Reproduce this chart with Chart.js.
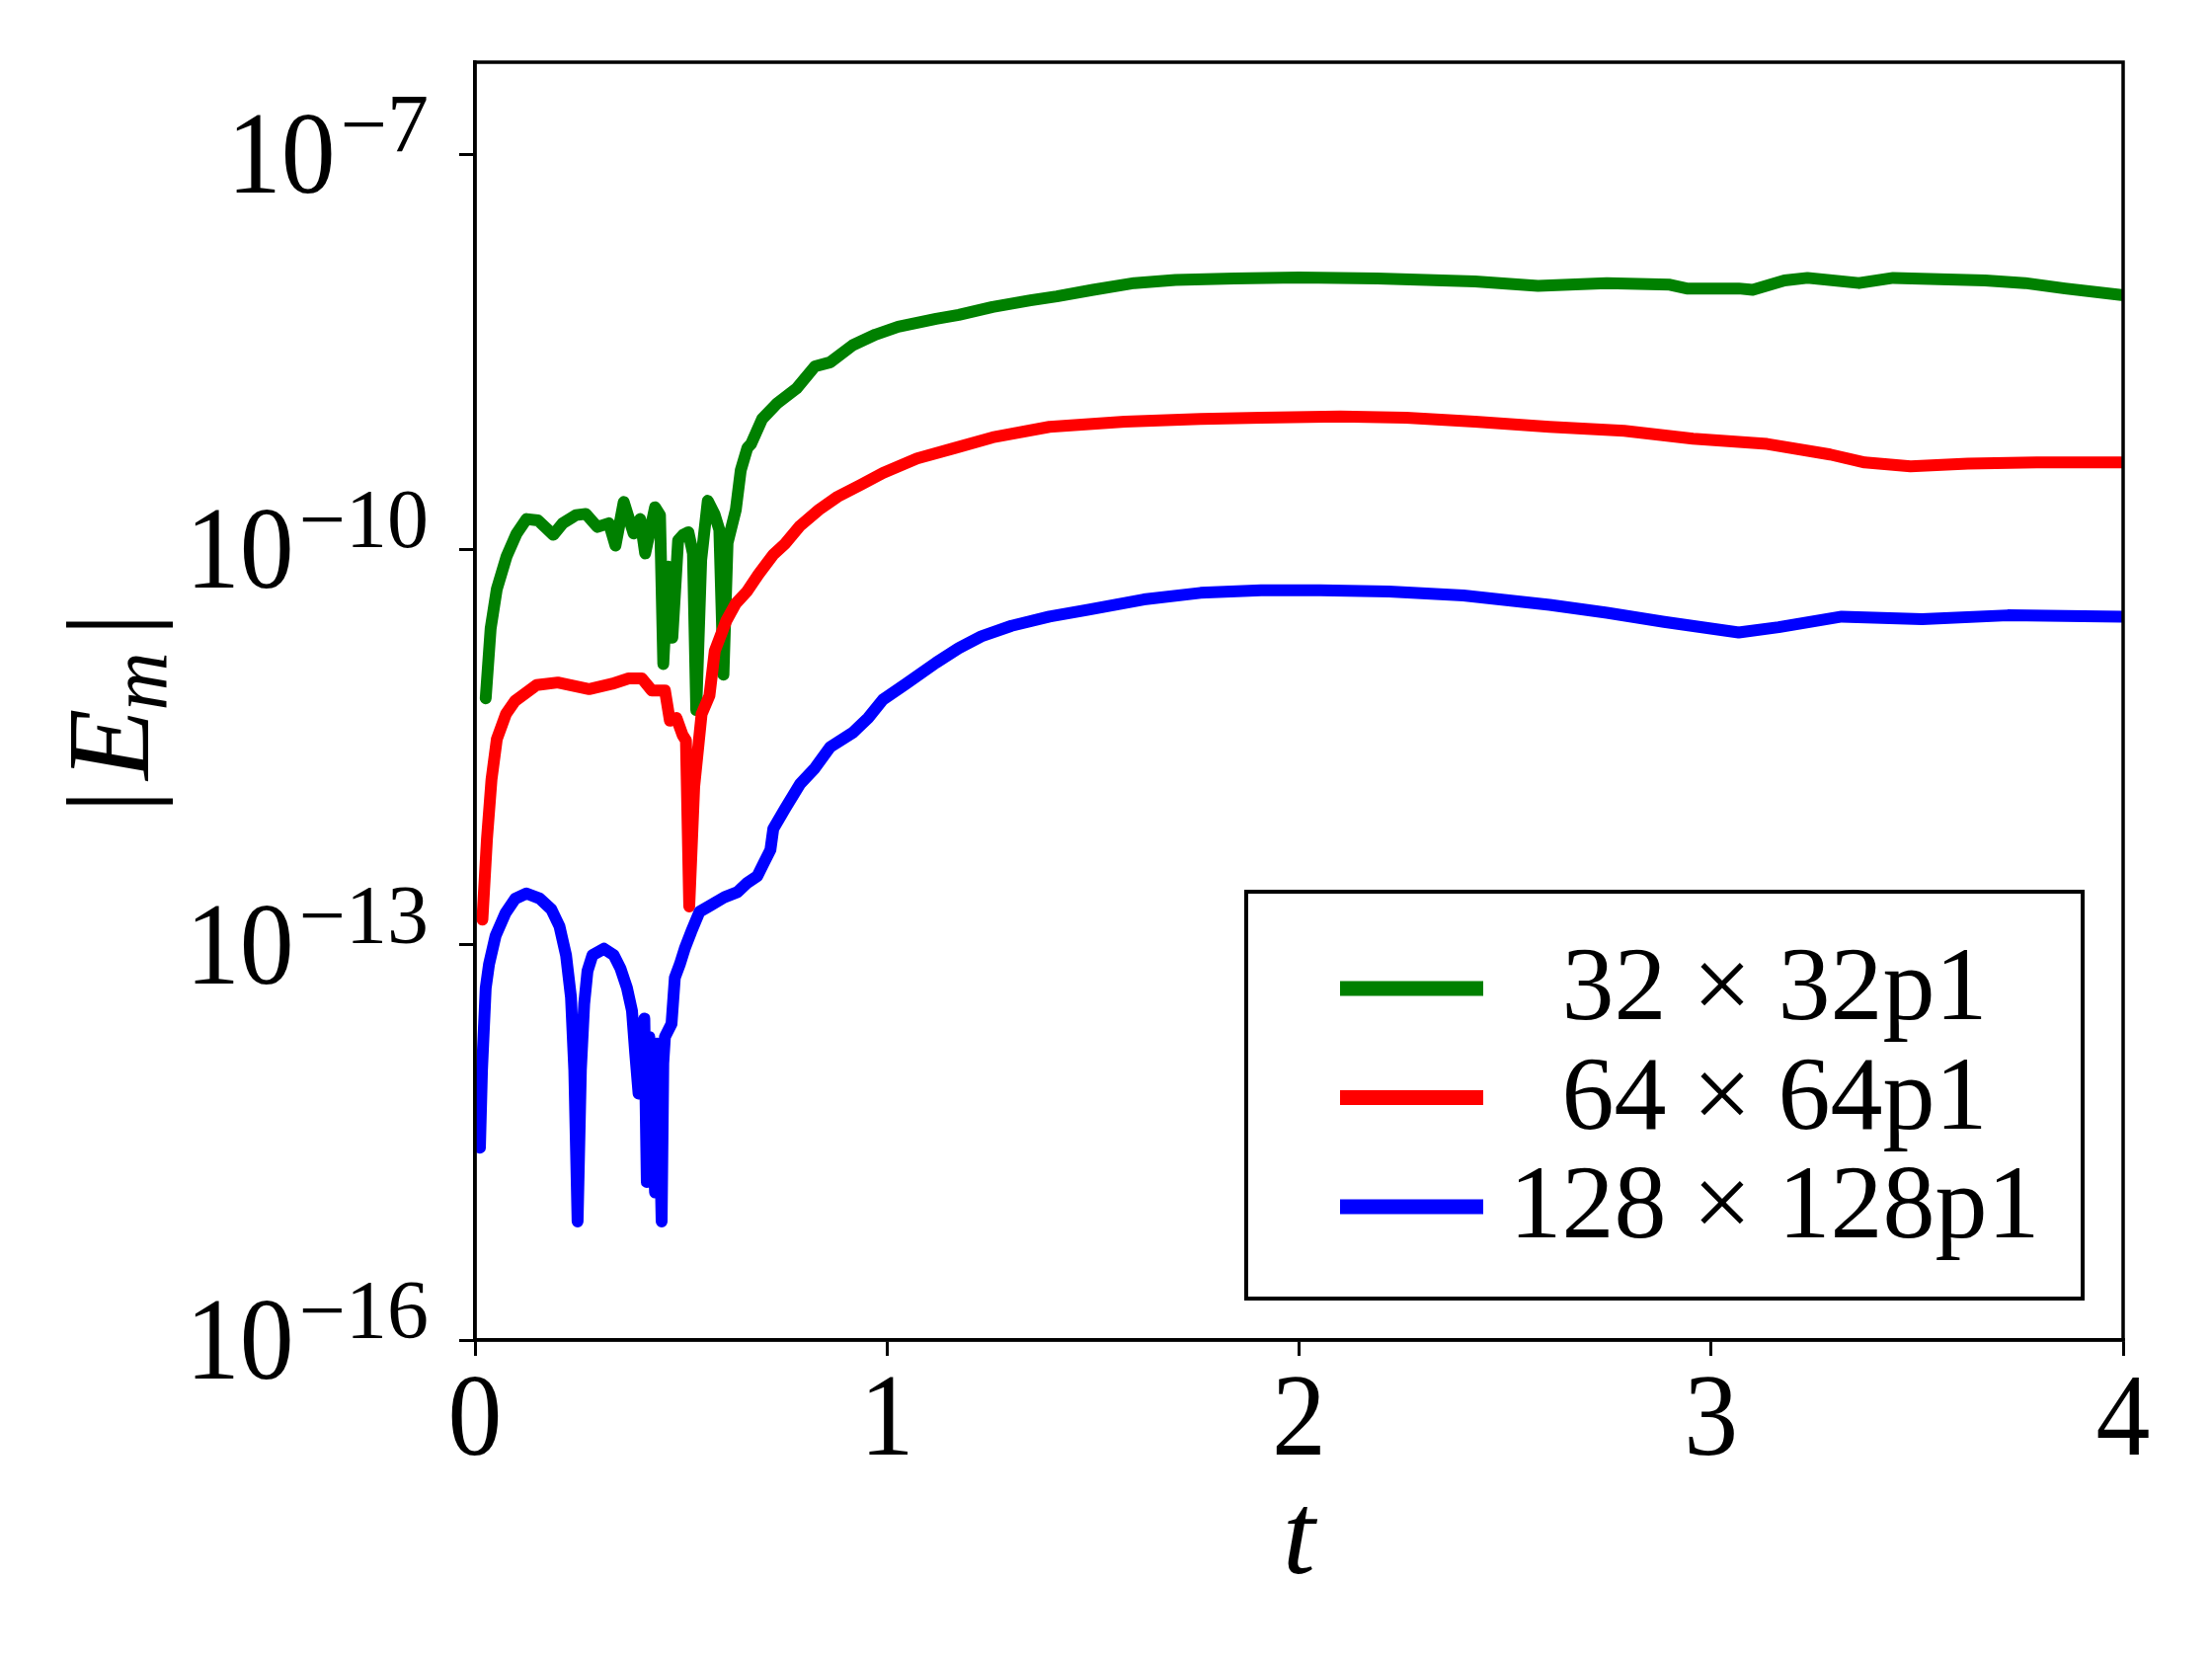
<!DOCTYPE html>
<html><head><meta charset="utf-8">
<style>html,body{margin:0;padding:0;background:#fff;} #c{display:block;}</style>
<script src="https://cdn.jsdelivr.net/npm/chart.js@4.4.1/dist/chart.umd.min.js"></script>
</head><body>
<canvas id="c" width="2240" height="1680" style="width:2240px;height:1680px"></canvas>
<script>
// ---------------- DATA ----------------
const seriesLabels = ['32 × 32p1', '64 × 64p1', '128 × 128p1'];
const seriesColors = ['#008000', '#ff0000', '#0000ff'];

const tGreen = [0.026,0.038,0.053,0.077,0.101,0.125,0.153,0.190,0.213,0.245,0.269,0.297,0.325,0.341,0.361,0.385,0.401,0.413,0.437,0.449,0.457,0.469,0.479,0.493,0.505,0.518,0.529,0.537,0.549,0.565,0.581,0.593,0.603,0.613,0.633,0.645,0.661,0.670,0.697,0.734,0.780,0.825,0.862,0.917,0.972,1.027,1.119,1.174,1.256,1.348,1.412,1.50,1.60,1.70,1.843,2.000,2.190,2.427,2.580,2.747,2.900,2.941,3.067,3.101,3.178,3.234,3.359,3.442,3.665,3.762,3.859,3.996];
const eGreen = [7.41e-12,2.51e-11,5.01e-11,8.91e-11,1.32e-10,1.70e-10,1.66e-10,1.29e-10,1.58e-10,1.82e-10,1.86e-10,1.48e-10,1.58e-10,1.07e-10,2.29e-10,1.32e-10,1.70e-10,9.33e-11,2.09e-10,1.82e-10,1.35e-11,7.41e-11,2.14e-11,1.17e-10,1.29e-10,1.35e-10,9.33e-11,6.03e-12,8.32e-11,2.34e-10,1.86e-10,1.41e-10,1.12e-11,1.12e-10,2.00e-10,3.98e-10,5.89e-10,6.31e-10,9.77e-10,1.29e-9,1.66e-9,2.45e-9,2.63e-9,3.55e-9,4.27e-9,4.90e-9,5.62e-9,6.03e-9,6.92e-9,7.76e-9,8.32e-9,9.33e-9,1.05e-8,1.11e-8,1.14e-8,1.16e-8,1.14e-8,1.08e-8,1.00e-8,1.05e-8,1.02e-8,9.55e-9,9.55e-9,9.33e-9,1.10e-8,1.15e-8,1.05e-8,1.15e-8,1.10e-8,1.05e-8,9.55e-9,8.51e-9];

const tRed = [0.018,0.029,0.040,0.053,0.075,0.097,0.149,0.201,0.277,0.333,0.373,0.405,0.429,0.461,0.473,0.489,0.504,0.512,0.520,0.532,0.550,0.569,0.582,0.610,0.633,0.660,0.688,0.724,0.752,0.789,0.835,0.880,0.936,0.990,1.073,1.165,1.256,1.394,1.577,1.761,1.908,2.100,2.260,2.427,2.608,2.789,2.956,3.136,3.289,3.373,3.484,3.623,3.790,3.996];
const eRed = [1.55e-13,6.31e-13,1.78e-12,3.63e-12,5.62e-12,7.08e-12,9.33e-12,9.77e-12,8.71e-12,9.55e-12,1.05e-11,1.05e-11,8.51e-12,8.51e-12,5.01e-12,5.25e-12,3.89e-12,3.55e-12,1.95e-13,1.58e-12,5.62e-12,7.76e-12,1.70e-11,2.88e-11,3.89e-11,4.79e-11,6.46e-11,9.12e-11,1.10e-10,1.51e-10,2.00e-10,2.51e-10,3.09e-10,3.80e-10,4.90e-10,5.89e-10,7.08e-10,8.51e-10,9.33e-10,9.77e-10,1.00e-9,1.02e-9,1.00e-9,9.33e-10,8.51e-10,7.94e-10,6.92e-10,6.31e-10,5.25e-10,4.57e-10,4.27e-10,4.47e-10,4.57e-10,4.57e-10];

const tBlue = [0.012,0.017,0.026,0.034,0.050,0.074,0.098,0.125,0.157,0.185,0.205,0.221,0.233,0.241,0.249,0.257,0.265,0.273,0.285,0.313,0.337,0.353,0.369,0.381,0.389,0.397,0.405,0.411,0.417,0.423,0.429,0.433,0.437,0.441,0.445,0.449,0.453,0.457,0.461,0.477,0.485,0.497,0.509,0.525,0.545,0.573,0.605,0.637,0.661,0.685,0.701,0.717,0.724,0.752,0.789,0.825,0.862,0.917,0.954,0.990,1.046,1.119,1.174,1.229,1.302,1.394,1.486,1.623,1.761,1.908,2.051,2.218,2.399,2.608,2.747,2.886,3.067,3.164,3.317,3.512,3.720,3.996];
const eBlue = [2.88e-15,1.12e-14,4.68e-14,7.08e-14,1.17e-13,1.74e-13,2.24e-13,2.45e-13,2.24e-13,1.86e-13,1.38e-13,8.32e-14,3.98e-14,1.12e-14,7.94e-16,1.12e-14,3.55e-14,6.31e-14,8.32e-14,9.33e-14,8.32e-14,6.61e-14,4.68e-14,3.16e-14,1.48e-14,7.41e-15,2.00e-14,2.75e-14,1.58e-15,2.00e-14,1.12e-14,2.51e-15,1.32e-15,1.78e-14,1.48e-14,3.16e-15,7.94e-16,1.26e-14,2.00e-14,2.51e-14,5.62e-14,7.08e-14,9.33e-14,1.26e-13,1.78e-13,2.00e-13,2.29e-13,2.51e-13,2.95e-13,3.31e-13,4.17e-13,5.25e-13,7.59e-13,1.07e-12,1.66e-12,2.19e-12,3.16e-12,4.07e-12,5.25e-12,7.24e-12,9.55e-12,1.38e-11,1.78e-11,2.19e-11,2.63e-11,3.09e-11,3.47e-11,4.17e-11,4.68e-11,4.90e-11,4.90e-11,4.79e-11,4.47e-11,3.80e-11,3.31e-11,2.82e-11,2.34e-11,2.57e-11,3.09e-11,2.95e-11,3.16e-11,3.09e-11];

const xTickValues = [0, 1, 2, 3, 4];
const xTickLabels = ['0', '1', '2', '3', '4'];
const yTickValues = [1e-16, 1e-13, 1e-10, 1e-7];
const yTickBase = '10';
const yTickExponents = ['\u221216', '\u221213', '\u221210', '\u22127'];
const xMin = 0, xMax = 4, yMin = 1e-16, yMax = 4.98e-7;
const xTitle = 't';
const yTitleMain = 'E', yTitleSub = 'm';

// ---------------- STYLE ----------------
const SERIF = '"Liberation Serif", "DejaVu Serif", serif';
const BASE_FONT = '118px ' + SERIF;
const EXP_FONT = '84px ' + SERIF;
const ITAL_FONT = 'italic 118px ' + SERIF;
const SUB_FONT = 'italic 82px ' + SERIF;
const LEG_FONT = '106px ' + SERIF;
const SX = 0.93;
const LINE_W = 12;

function txt(ctx, s, x, y, font, align, sx) {
  ctx.save();
  ctx.font = font; ctx.textAlign = align; ctx.textBaseline = 'alphabetic';
  ctx.translate(x, y); ctx.scale(sx || 1, 1);
  ctx.fillText(s, 0, 0);
  ctx.restore();
}

const decor = {
  id: 'decor',
  afterDraw(chart) {
    const ctx = chart.ctx, a = chart.chartArea, xs = chart.scales.x, ys = chart.scales.y;
    ctx.save();
    ctx.fillStyle = '#000';
    ctx.strokeStyle = '#000';
    ctx.lineWidth = 3.5;
    ctx.strokeRect(a.left, a.top, a.right - a.left, a.bottom - a.top);

    // y tick labels 10^{-n}
    yTickValues.forEach((v, i) => {
      const py = ys.getPixelForValue(v);
      ctx.font = EXP_FONT;
      const we = ctx.measureText(yTickExponents[i]).width;
      const xr = a.left - 47;
      txt(ctx, yTickExponents[i], xr, py - 2, EXP_FONT, 'right', 1);
      txt(ctx, yTickBase, xr - we - 5, py + 39, BASE_FONT, 'right', SX);
    });
    // x tick labels
    xTickValues.forEach((v, i) => {
      txt(ctx, xTickLabels[i], xs.getPixelForValue(v), a.bottom + 116, BASE_FONT, 'center', SX);
    });
    // x title
    txt(ctx, xTitle, (a.left + a.right) / 2, a.bottom + 236, ITAL_FONT, 'center', 1);

    // y title |E_m|
    ctx.save();
    ctx.translate(150, (a.top + a.bottom) / 2 + 12);
    ctx.rotate(-Math.PI / 2);
    ctx.textBaseline = 'alphabetic'; ctx.textAlign = 'left';
    ctx.font = BASE_FONT; const wBar = ctx.measureText('|').width;
    ctx.font = ITAL_FONT; const wE = ctx.measureText(yTitleMain).width;
    ctx.font = SUB_FONT; const wM = ctx.measureText(yTitleSub).width;
    const total = wBar + 10 + wE + wM + 14 + wBar;
    let s = -total / 2;
    ctx.font = BASE_FONT; ctx.fillText('|', s, 0); s += wBar + 10;
    ctx.font = ITAL_FONT; ctx.fillText(yTitleMain, s, 0); s += wE - 2;
    ctx.font = SUB_FONT; ctx.fillText(yTitleSub, s, 18); s += wM + 16;
    ctx.font = BASE_FONT; ctx.fillText('|', s, 0);
    ctx.restore();

    // legend
    const lx0 = a.right - 888, lx1 = a.right - 41, ly0 = a.bottom - 454, ly1 = a.bottom - 42;
    ctx.fillStyle = '#fff';
    ctx.fillRect(lx0, ly0, lx1 - lx0, ly1 - ly0);
    ctx.strokeStyle = '#000'; ctx.lineWidth = 4;
    ctx.strokeRect(lx0, ly0, lx1 - lx0, ly1 - ly0);
    chart.data.datasets.forEach((ds, i) => {
      const yy = ly0 + 98 + i * 110.5;
      ctx.strokeStyle = ds.borderColor; ctx.lineWidth = 15; ctx.lineCap = 'butt';
      ctx.beginPath(); ctx.moveTo(lx0 + 95, yy); ctx.lineTo(lx0 + 240, yy); ctx.stroke();
      ctx.fillStyle = '#000';
      txt(ctx, ds.label, lx0 + 535, yy + 31, LEG_FONT, 'center', 1);
    });
    ctx.restore();
  }
};

function mk(ts, es) { return ts.map((t, i) => ({ x: t, y: es[i] })); }
const seriesData = [mk(tGreen, eGreen), mk(tRed, eRed), mk(tBlue, eBlue)];

const axisGrid = { display: true, drawOnChartArea: false, drawTicks: true, tickLength: 16, lineWidth: 3, color: '#000' };

new Chart(document.getElementById('c'), {
  type: 'line',
  data: {
    datasets: seriesData.map((d, i) => ({
      label: seriesLabels[i], data: d, borderColor: seriesColors[i], backgroundColor: seriesColors[i],
      borderWidth: LINE_W, pointRadius: 0, fill: false, tension: 0, borderJoinStyle: 'round', borderCapStyle: 'round', order: 2 - i
    }))
  },
  options: {
    responsive: false, devicePixelRatio: 1, animation: false,
    layout: { padding: { left: 465, right: 90, top: 63, bottom: 307 } },
    elements: { line: { borderWidth: LINE_W, borderJoinStyle: 'round', borderCapStyle: 'round' }, point: { radius: 0 } },
    plugins: { legend: { display: false }, tooltip: { enabled: false } },
    scales: {
      x: {
        type: 'linear', min: xMin, max: xMax,
        afterBuildTicks: s => { s.ticks = xTickValues.map(v => ({ value: v })); },
        afterFit: s => { s.height = 16; },
        ticks: { display: false }, grid: axisGrid,
        border: { display: true, color: '#000', width: 3.5 }
      },
      y: {
        type: 'logarithmic', min: yMin, max: yMax,
        afterBuildTicks: s => { s.ticks = yTickValues.map(v => ({ value: v })); },
        afterFit: s => { s.width = 16; },
        ticks: { display: false }, grid: axisGrid,
        border: { display: true, color: '#000', width: 3.5 }
      }
    }
  },
  plugins: [decor]
});
</script>
</body></html>
